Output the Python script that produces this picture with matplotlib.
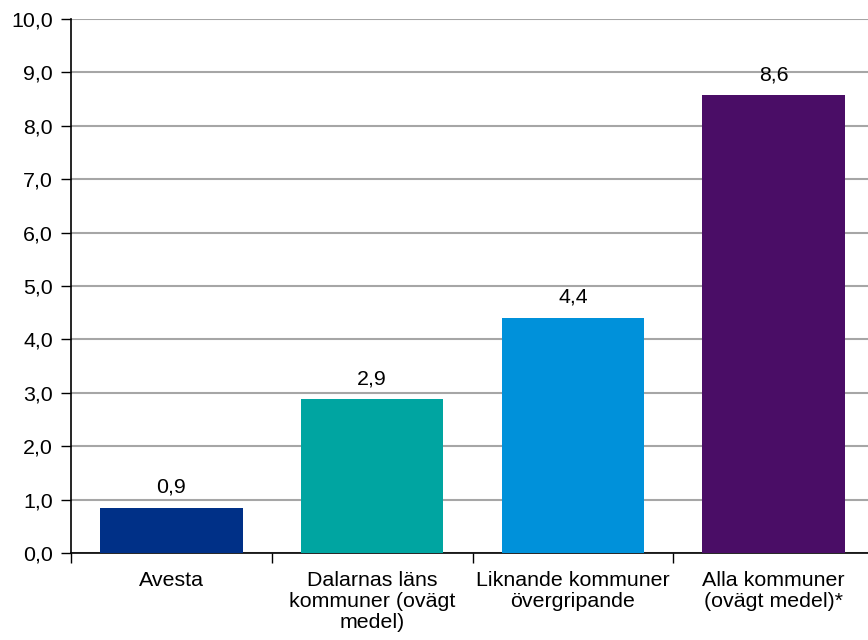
import numpy as np
import matplotlib.pyplot as plt
from matplotlib.ticker import FixedLocator, FuncFormatter

# Data
categories = ["Avesta", "Dalarnas läns\nkommuner (ovägt\nmedel)",
              "Liknande kommuner\növergripande", "Alla kommuner\n(ovägt medel)*"]
values = [0.85, 2.88, 4.41, 8.57]
labels = ["0,9", "2,9", "4,4", "8,6"]
colors = ["#003087", "#00A5A1", "#0091DA", "#4A0D66"]

plt.rcParams['font.family'] = ['Liberation Sans', 'DejaVu Sans']
fs = 15.4

fig = plt.figure(figsize=(8.68, 6.4), dpi=100)
ax = fig.add_axes([71 / 868, (640 - 553) / 640, 803 / 868, 534 / 640])

x = np.arange(len(categories))
ax.bar(x, values, width=0.71, color=colors, zorder=3)

for xi, v, lab in zip(x, values, labels):
    ax.text(xi, v + 0.2, lab, ha='center', va='bottom', fontsize=fs)

ax.set_xlim(-0.5, 3.5)
ax.set_ylim(0, 10)
ax.set_yticks(np.arange(0, 10.1, 1))
ax.yaxis.set_major_formatter(FuncFormatter(lambda v, p: f"{v:.1f}".replace('.', ',')))
ax.grid(axis='y', color='#A6A6A6', linewidth=1.5, zorder=0)

ax.set_xticks(x)
ax.set_xticklabels(categories, fontsize=fs, linespacing=1.13)
ax.tick_params(axis='x', which='major', length=0, pad=13)
ax.xaxis.set_minor_locator(FixedLocator([-0.5, 0.5, 1.5, 2.5]))
ax.tick_params(axis='x', which='minor', length=7, width=1, color='black')
ax.tick_params(axis='y', length=7, width=1, labelsize=fs, pad=6)

for s in ['top', 'right']:
    ax.spines[s].set_visible(False)
ax.spines['left'].set_linewidth(1.2)
ax.spines['bottom'].set_linewidth(1.2)

plt.savefig("out.png", dpi=100)
